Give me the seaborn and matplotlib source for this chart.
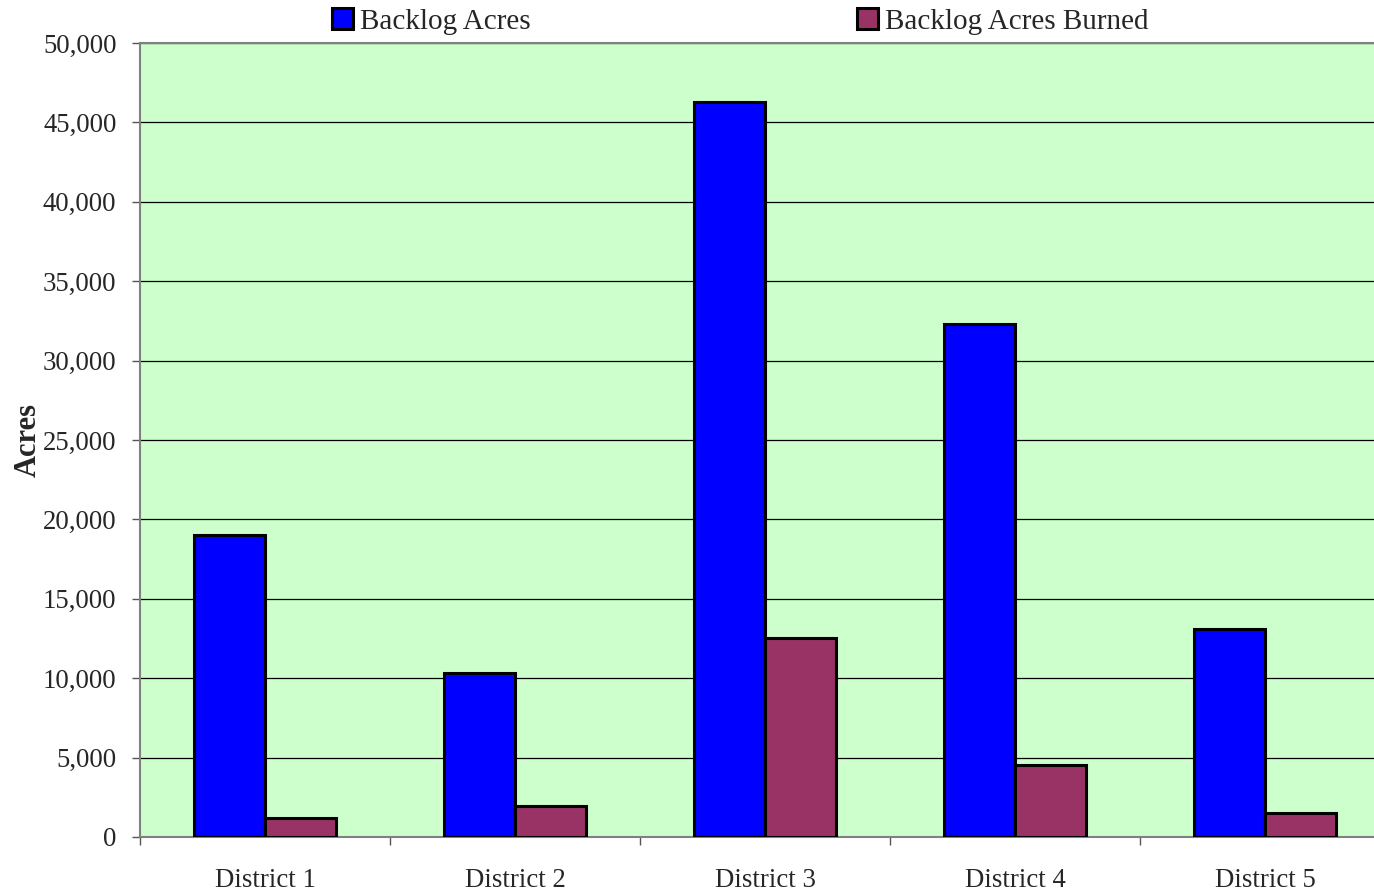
import matplotlib
matplotlib.use("Agg")
import matplotlib.pyplot as plt
from matplotlib.ticker import FuncFormatter, FixedLocator
import pandas as pd
import seaborn as sns

districts = ["District 1", "District 2", "District 3", "District 4", "District 5"]
backlog_acres = [19000, 10300, 46300, 32300, 13100]
backlog_burned = [1200, 1950, 12500, 4530, 1500]
series_names = ["Backlog Acres", "Backlog Acres Burned"]
series_colors = ["#0000FF", "#993366"]

df = pd.DataFrame({
    "District": districts * 2,
    "Series": [series_names[0]] * len(districts) + [series_names[1]] * len(districts),
    "Acres": backlog_acres + backlog_burned,
})

sns.set_style("white")
plt.rcParams["font.family"] = ["Liberation Serif", "DejaVu Serif"]

fig = plt.figure(figsize=(13.74, 8.90), dpi=100)
# the plot area runs a little past the right edge of the picture
ax = fig.add_axes([0.1019, 0.0596, 0.9098, 0.8921])
ax.set_facecolor("#CCFFCC")

sns.barplot(data=df, x="District", y="Acres", hue="Series", order=districts,
            hue_order=series_names, palette=series_colors, width=0.57,
            edgecolor="black", linewidth=2.2, saturation=1, ax=ax, zorder=3)

ax.set_ylim(0, 50000)
ax.set_xlim(-0.5, len(districts) - 0.5)
ax.set_yticks(range(0, 50001, 5000))
ax.yaxis.set_major_formatter(FuncFormatter(lambda v, p: f"{int(v):,}"))
ax.grid(axis="y", color="black", linewidth=0.9, zorder=1)
ax.set_axisbelow(True)

ax.tick_params(axis="y", direction="out", length=6, width=1, color="#555555",
               labelsize=19.3, pad=11, left=True)
ax.tick_params(axis="x", which="major", length=0, labelsize=19.3, pad=22)
ax.xaxis.set_minor_locator(FixedLocator([i + 0.5 for i in range(-1, len(districts))]))
ax.tick_params(axis="x", which="minor", direction="out", length=6, width=1,
               color="#555555", bottom=True)

ax.set_xlabel("")
ax.set_ylabel("Acres", fontsize=22, fontweight="bold", labelpad=0)

for side in ["left", "bottom", "top"]:
    ax.spines[side].set_color("#808080")
    ax.spines[side].set_linewidth(1.5)
ax.spines["right"].set_visible(False)

handles, labels = ax.get_legend_handles_labels()
ax.get_legend().remove()
fig.legend(handles, labels, loc="center", bbox_to_anchor=(0.539, 0.976), ncol=2,
           frameon=False, fontsize=21, handlelength=0.7, handleheight=0.7,
           handletextpad=0.25, columnspacing=11.2, borderaxespad=0)

fig.savefig("out.png", dpi=100)
plt.close(fig)
